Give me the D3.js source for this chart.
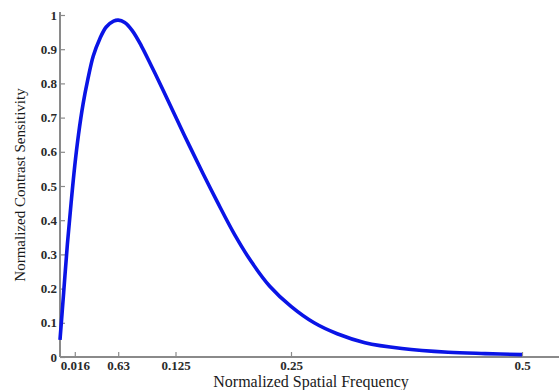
<!DOCTYPE html>
<html lang="en">
<head>
    <meta charset="UTF-8">
    <title>Normalized Contrast Sensitivity</title>
    <script src="https://d3js.org/d3.v7.min.js"></script>
    <style>
        body { margin: 0; background: white; }
        svg { display: block; }
        .tick-label { font-family: "Liberation Serif", "Times New Roman", serif; font-size: 13px; font-weight: bold; fill: #2a2a2a; }
        .axis-title { font-family: "Liberation Serif", "Times New Roman", serif; font-size: 15px; fill: #1a1a1a; }
    </style>
</head>
<body>
    <svg id="chart" width="559" height="390"></svg>
    <script>
        // values
        const freq = [0, 0.004, 0.008, 0.012, 0.016, 0.02, 0.025, 0.03, 0.036, 0.043, 0.05, 0.058,
                      0.063, 0.07, 0.078, 0.088, 0.1, 0.112, 0.125, 0.14, 0.155, 0.17, 0.189, 0.207,
                      0.227, 0.25, 0.275, 0.3, 0.33, 0.37, 0.42, 0.46, 0.5];
        const sensitivity = [0.05, 0.19, 0.33, 0.45, 0.56, 0.65, 0.74, 0.81, 0.88, 0.93, 0.965, 0.982,
                             0.985, 0.978, 0.955, 0.91, 0.845, 0.778, 0.703, 0.618, 0.535, 0.455, 0.358, 0.279,
                             0.207, 0.148, 0.1, 0.068, 0.042, 0.025, 0.014, 0.01, 0.007];
        const xTicks = [0.016, 0.063, 0.125, 0.25, 0.5];
        const xTickLabels = ["0.016", "0.63", "0.125", "0.25", "0.5"];
        const yTicks = [0, 0.1, 0.2, 0.3, 0.4, 0.5, 0.6, 0.7, 0.8, 0.9, 1];

        const svg = d3.select("#chart");
        const margin = {top: 15, right: 0, bottom: 33, left: 60};
        const width = +svg.attr("width") - margin.left - margin.right;
        const height = +svg.attr("height") - margin.top - margin.bottom;
        const g = svg.append("g").attr("transform", `translate(${margin.left},${margin.top})`);

        const x = d3.scaleLinear().domain([0, width / 924]).range([0, width]);
        const y = d3.scaleLinear().domain([0, 1]).range([height, 0]);

        // x axis, ticks pointing inward
        const xAxis = g.append("g")
            .attr("transform", `translate(0,${height})`)
            .call(d3.axisBottom(x).tickValues(xTicks).tickSize(-5)
                .tickFormat((d, i) => xTickLabels[i]));
        xAxis.select(".domain").attr("stroke", "#8a8a8a").attr("stroke-width", 2).attr("d", `M0,0H${width}`);
        xAxis.selectAll(".tick line").attr("stroke", "#8a8a8a").attr("stroke-width", 1.2);
        xAxis.selectAll(".tick text").attr("class", "tick-label").attr("y", 4).attr("dy", "0.72em");

        // y axis
        const yAxis = g.append("g")
            .call(d3.axisLeft(y).tickValues(yTicks).tickSize(-5).tickFormat(d3.format("")));
        yAxis.select(".domain").attr("stroke", "#8a8a8a").attr("stroke-width", 2).attr("d", `M0,${height}V-3`);
        yAxis.selectAll(".tick line").attr("stroke", "#8a8a8a").attr("stroke-width", 1.2);
        yAxis.selectAll(".tick text").attr("class", "tick-label").attr("x", -3);

        // curve
        const line = d3.line()
            .x((d, i) => x(freq[i]))
            .y(d => y(d))
            .curve(d3.curveCatmullRom.alpha(0.5));

        g.append("path")
            .datum(sensitivity)
            .attr("fill", "none")
            .attr("stroke", "#0a14e6")
            .attr("stroke-width", 3.6)
            .attr("stroke-linejoin", "round")
            .attr("d", line);

        // axis titles
        svg.append("text")
            .attr("class", "axis-title")
            .style("font-size", "16px")
            .attr("x", 311)
            .attr("y", 387)
            .attr("text-anchor", "middle")
            .text("Normalized Spatial Frequency");

        svg.append("text")
            .attr("class", "axis-title")
            .attr("transform", "translate(25,185) rotate(-90)")
            .attr("text-anchor", "middle")
            .text("Normalized Contrast Sensitivity");
    </script>
</body>
</html>
